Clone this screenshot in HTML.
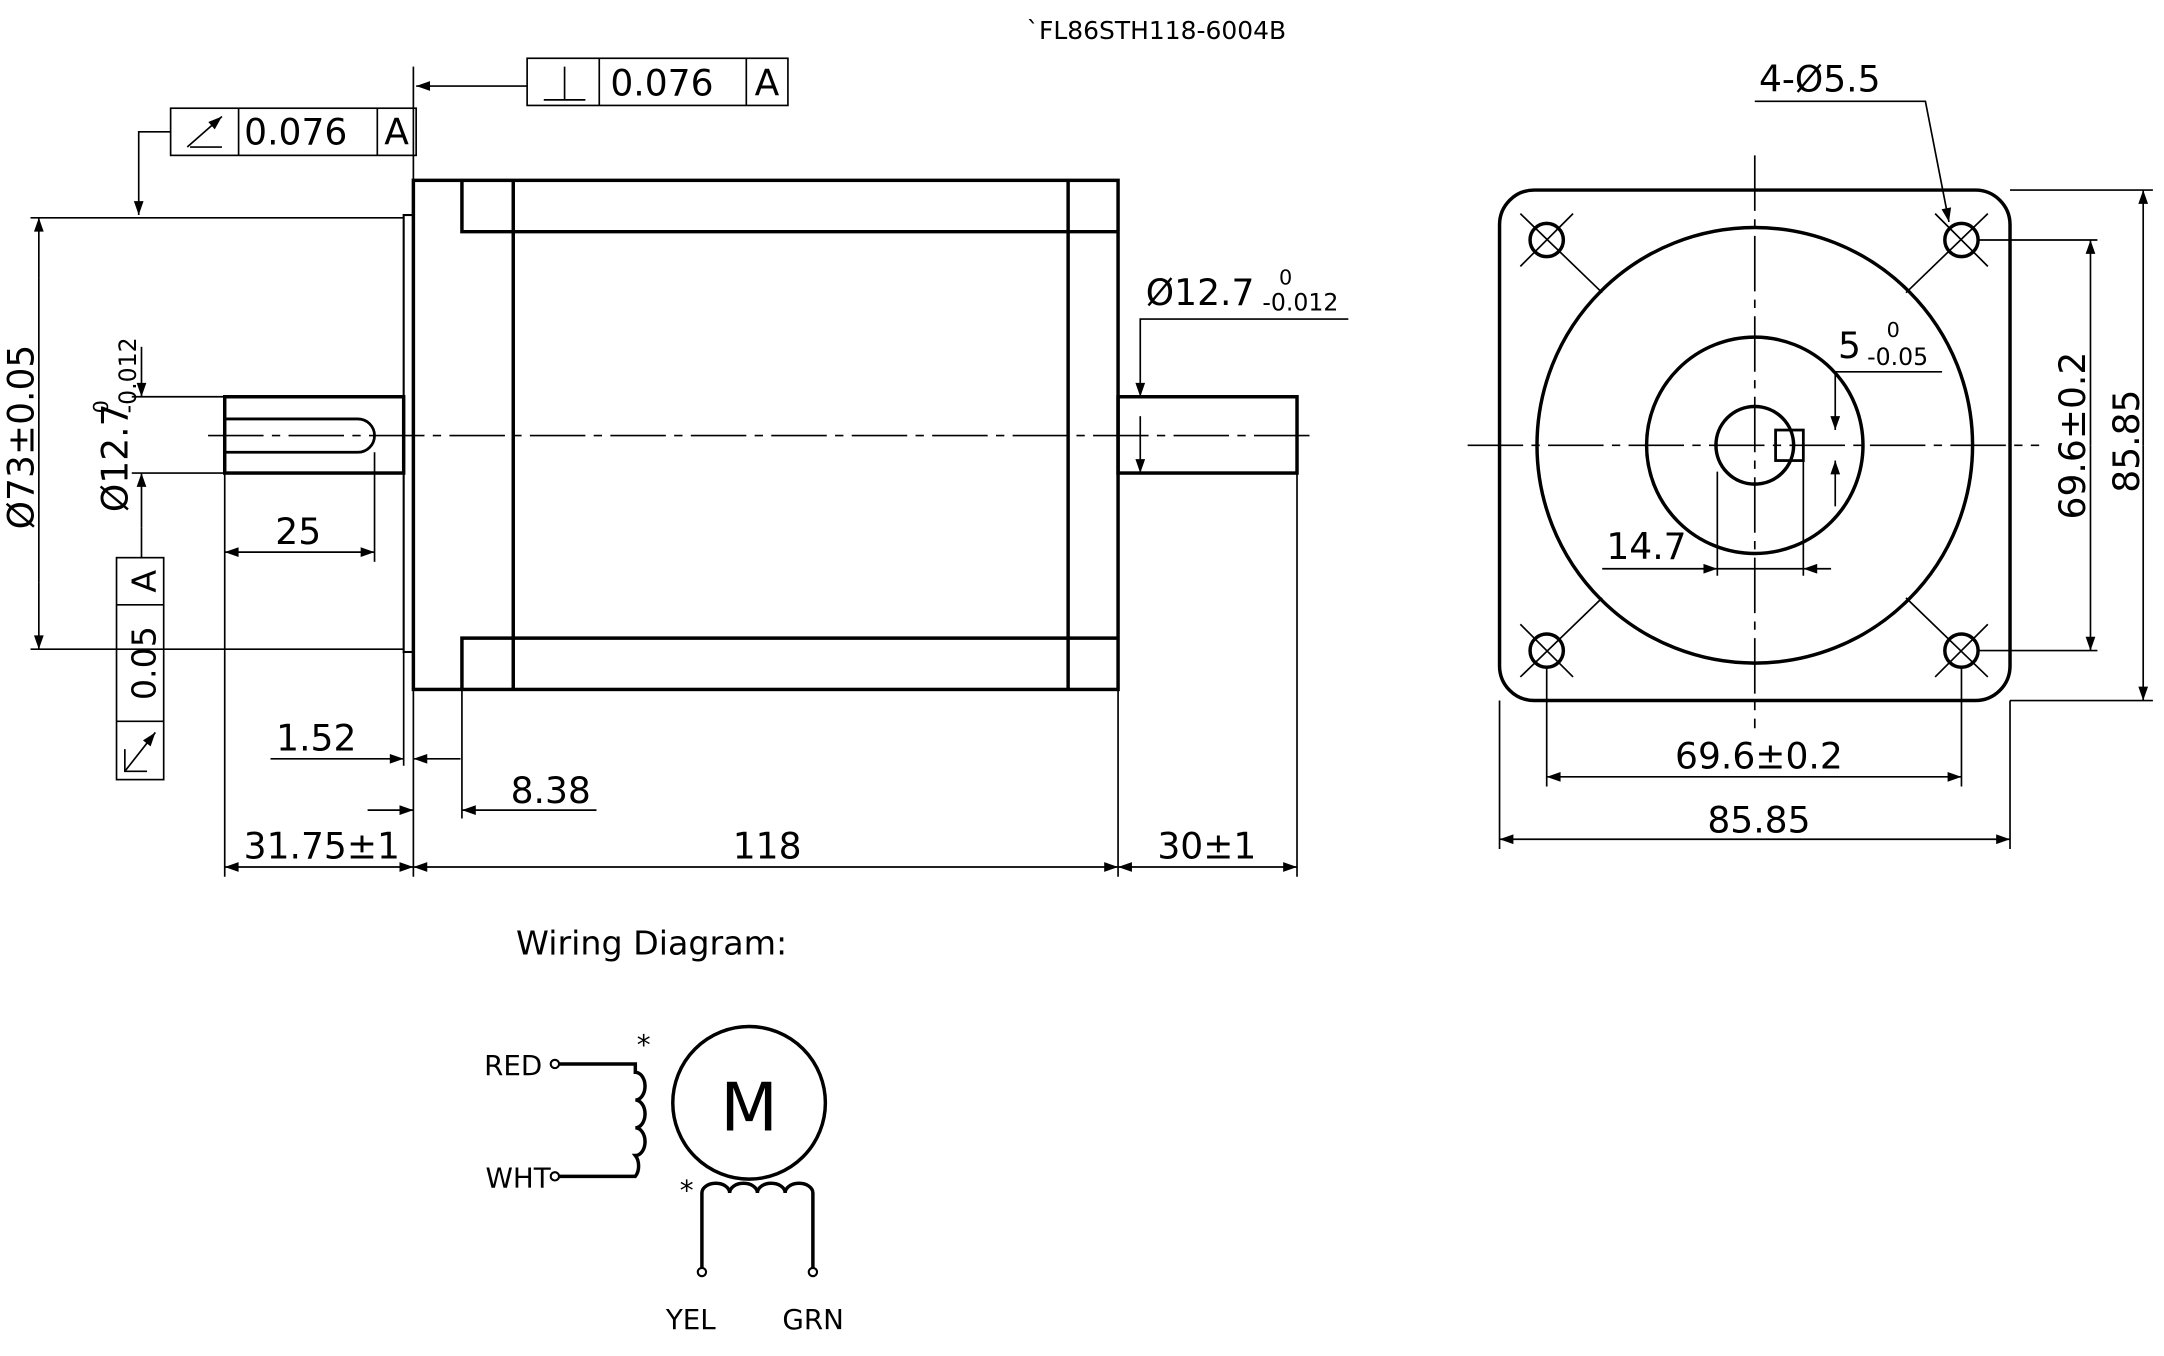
<!DOCTYPE html>
<html><head><meta charset="utf-8"><style>
html,body{margin:0;padding:0;background:#fff;}
svg{display:block;}
text{font-family:"DejaVu Sans","Liberation Sans",sans-serif;fill:#000;}
</style></head><body>
<svg width="2164" height="1356" viewBox="0 0 1560 977.5" xmlns="http://www.w3.org/2000/svg">
<defs>
<marker id="a" viewBox="0 0 10 10" refX="10" refY="5" markerWidth="14" markerHeight="10" markerUnits="userSpaceOnUse" orient="auto-start-reverse"><path d="M0,1.5 L10,5 L0,8.5 z" fill="#000"/></marker>
</defs>
<rect width="1560" height="977.5" fill="#fff"/>
<text x="740" y="28" font-size="18">`FL86STH118-6004B</text>

<g stroke="#000" fill="none" stroke-width="2.5">
<!-- motor body -->
<rect x="298" y="130" width="508" height="367"/>
<path d="M333 130V167H806M333 497V460H806M370 130V497M770 130V497"/>
<rect x="291" y="155" width="7" height="315" stroke-width="1.5"/>
<rect x="162" y="286" width="129" height="55"/>
<path d="M162 302H258A12 12 0 0 1 258 326H162" stroke-width="2"/>
<rect x="806" y="286" width="129" height="55"/>
</g>
<g stroke="#000" fill="none" stroke-width="1.2">
<path d="M150 314H945" stroke-dasharray="40 6 6 6"/>
<!-- FCF top -->
<rect x="380" y="42" width="188" height="34"/><path d="M432 42V76M538 42V76M392 72H422M407 72V48"/>
<path d="M380 62H300" marker-end="url(#a)"/><path d="M298 48V130"/>
<!-- FCF 2 -->
<rect x="123" y="78" width="177" height="34"/><path d="M172 78V112M272 78V112"/>
<path d="M135 106L160 84" marker-end="url(#a)"/><path d="M137 106H160"/>
<path d="M123 95H100V155" marker-end="url(#a)"/>
<!-- dia 73 -->
<path d="M22 157H291M22 468H291"/>
<path d="M28 200V157" marker-end="url(#a)"/><path d="M28 420V468" marker-end="url(#a)"/><path d="M28 200V420"/>
<!-- dia 12.7 -->
<path d="M95 286H162M95 341H162"/>
<path d="M102 250V286" marker-end="url(#a)"/><path d="M102 380V341" marker-end="url(#a)"/><path d="M102 380V402"/>
<rect x="84" y="402" width="34" height="160"/><path d="M84 436H118M84 520H118"/>
<path d="M90 556L112 528" marker-end="url(#a)"/><path d="M90 540V556H106"/>
<!-- 25 -->
<path d="M270 326V405"/>
<path d="M162 398H270" marker-start="url(#a)" marker-end="url(#a)"/>
<!-- extension lines -->
<path d="M162 341V632M298 497V632M806 497V632M935 341V632M291 470V552M333 497V590"/>
<path d="M195 547H291" marker-end="url(#a)"/><path d="M332 547H298" marker-end="url(#a)"/>
<path d="M265 584H298" marker-end="url(#a)"/><path d="M430 584H333" marker-end="url(#a)"/>
<path d="M162 625H298" marker-start="url(#a)" marker-end="url(#a)"/>
<path d="M298 625H806" marker-start="url(#a)" marker-end="url(#a)"/>
<path d="M806 625H935" marker-start="url(#a)" marker-end="url(#a)"/>
<!-- right dia -->
<path d="M972 230H822V286" marker-end="url(#a)"/><path d="M822 300V341" marker-end="url(#a)"/>
</g>
<text x="215" y="392" font-size="26" text-anchor="middle">25</text>
<text x="228" y="541" font-size="26" text-anchor="middle">1.52</text>
<text x="397" y="579" font-size="26" text-anchor="middle">8.38</text>
<text x="232" y="619" font-size="26" text-anchor="middle">31.75±1</text>
<text x="553" y="619" font-size="26" text-anchor="middle">118</text>
<text x="870" y="619" font-size="26" text-anchor="middle">30±1</text>
<text x="440" y="69" font-size="26">0.076</text><text x="544" y="69" font-size="26">A</text>
<text x="176" y="104" font-size="26">0.076</text><text x="277" y="104" font-size="26">A</text>
<text x="826" y="220" font-size="26">Ø12.7</text>
<text x="922" y="205" font-size="15">0</text><text x="910" y="224" font-size="17">-0.012</text>
<text transform="translate(24,315) rotate(-90)" font-size="26" text-anchor="middle">Ø73±0.05</text>
<text transform="translate(92,330) rotate(-90)" font-size="26" text-anchor="middle">Ø12.7</text>
<text transform="translate(78,298) rotate(-90)" font-size="15">0</text>
<text transform="translate(98,298) rotate(-90)" font-size="17">-0.012</text>
<text transform="translate(112,478) rotate(-90)" font-size="24" text-anchor="middle">0.05</text>
<text transform="translate(112,419) rotate(-90)" font-size="24" text-anchor="middle">A</text>

<!-- front view -->
<g stroke="#000" fill="none" stroke-width="2.5">
<rect x="1081" y="137" width="368" height="368" rx="25"/>
<circle cx="1265" cy="321" r="157"/>
<circle cx="1265" cy="321" r="78"/>
<circle cx="1265" cy="321" r="28"/>
<rect x="1280" y="310" width="20" height="22" stroke-width="2"/>
<circle cx="1115" cy="173" r="12"/><circle cx="1414" cy="173" r="12"/>
<circle cx="1115" cy="469" r="12"/><circle cx="1414" cy="469" r="12"/>
</g>
<g stroke="#000" fill="none" stroke-width="1.2">
<path d="M1096 154L1155 211M1134 154L1096 192M1433 154L1374 211M1395 154L1433 192M1096 488L1155 431M1134 488L1096 450M1433 488L1374 431M1395 488L1433 450"/>
<path d="M1058 321H1470M1265 112V525" stroke-dasharray="40 6 6 6"/>
<path d="M1426 173H1512M1426 469H1512M1449 137H1552M1449 505H1552"/>
<path d="M1507 321V173" marker-end="url(#a)"/><path d="M1507 321V469" marker-end="url(#a)"/>
<path d="M1545 321V137" marker-end="url(#a)"/><path d="M1545 321V505" marker-end="url(#a)"/>
<path d="M1115 481V567M1414 481V567M1081 505V612M1449 505V612"/>
<path d="M1115 560H1414" marker-start="url(#a)" marker-end="url(#a)"/>
<path d="M1081 605H1449" marker-start="url(#a)" marker-end="url(#a)"/>
<path d="M1265 73H1388L1405 160" marker-end="url(#a)"/>
<path d="M1400 268H1323V310" marker-end="url(#a)"/><path d="M1323 365V332" marker-end="url(#a)"/>
<path d="M1238 340V415M1300 332V415"/>
<path d="M1155 410H1238" marker-end="url(#a)"/><path d="M1320 410H1300" marker-end="url(#a)"/><path d="M1238 410H1300"/>
</g>
<text x="1268" y="66" font-size="26">4-Ø5.5</text>
<text x="1325" y="258" font-size="26">5</text>
<text x="1360" y="243" font-size="15">0</text><text x="1346" y="263" font-size="17">-0.05</text>
<text x="1158" y="403" font-size="26">14.7</text>
<text x="1268" y="554" font-size="26" text-anchor="middle">69.6±0.2</text>
<text x="1268" y="600" font-size="26" text-anchor="middle">85.85</text>
<text transform="translate(1503,314) rotate(-90)" font-size="26" text-anchor="middle">69.6±0.2</text>
<text transform="translate(1542,318) rotate(-90)" font-size="26" text-anchor="middle">85.85</text>

<!-- wiring -->
<text x="372" y="688" font-size="24">Wiring  Diagram:</text>
<g stroke="#000" fill="none" stroke-width="2.5">
<circle cx="540" cy="795" r="55"/>
<path d="M403 767H458V773A7 10 0 0 1 458 793A7 10 0 0 1 458 813A7 10 0 0 1 458 833A7 10 0 0 1 458 848H403"/>
<path d="M506 917V860A10 7 0 0 1 526 860A10 7 0 0 1 546 860A10 7 0 0 1 566 860A10 7 0 0 1 586 860V917"/>
</g>
<g stroke="#000" fill="#fff" stroke-width="1.5">
<circle cx="400" cy="767" r="3"/><circle cx="400" cy="848" r="3"/>
<circle cx="506" cy="917" r="3"/><circle cx="586" cy="917" r="3"/>
</g>
<text x="540" y="815" font-size="48" text-anchor="middle" font-weight="normal">M</text>
<text x="349" y="775" font-size="20">RED</text>
<text x="350" y="856" font-size="20">WHT</text>
<text x="459" y="760" font-size="20">*</text>
<text x="490" y="865" font-size="20">*</text>
<text x="480" y="958" font-size="20">YEL</text>
<text x="564" y="958" font-size="20">GRN</text>
</svg>
</body></html>
